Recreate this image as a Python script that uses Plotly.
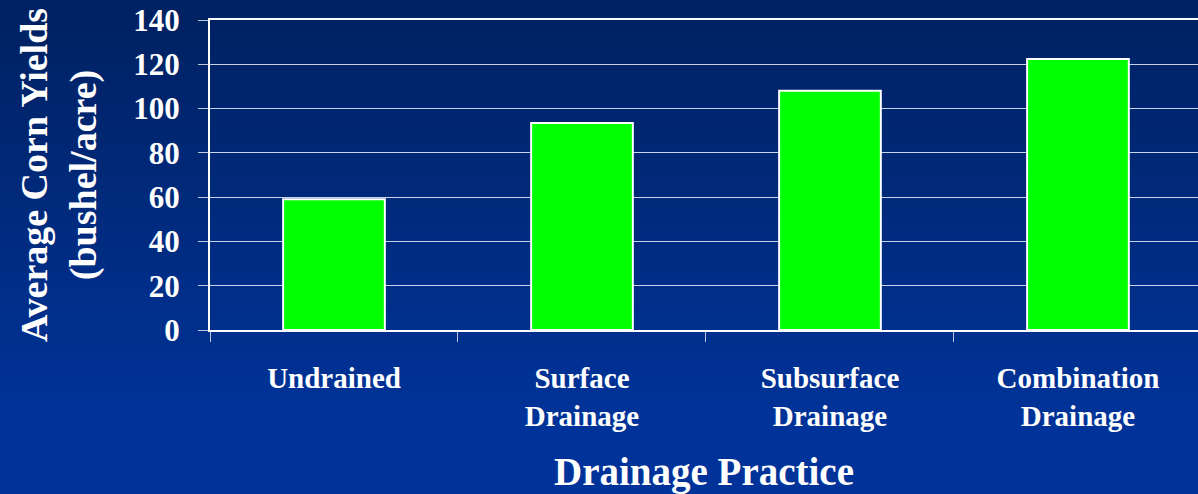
import plotly.graph_objects as go

categories = ["Undrained", "Surface<br>Drainage", "Subsurface<br>Drainage", "Combination<br>Drainage"]
yields = [59, 93.5, 108, 122.4]
y_ticks = [0, 20, 40, 60, 80, 100, 120, 140]

W, H = 1198, 494
ML, MR, MT, MB = 210, 0, 20, 164
FONT = "Liberation Serif"

fig = go.Figure()
fig.add_trace(go.Bar(
    x=categories, y=yields, width=0.41,
    marker=dict(color="#00FF00", line=dict(color="white", width=2)),
))

# background gradient (styling only)
plot_h = H - MT - MB
plot_w = W - ML - MR
top_c = (0x00, 0x21, 0x60)
bot_c = (0x00, 0x33, 0x99)
n = 60
for i in range(n):
    p0 = i * H / n
    p1 = (i + 1) * H / n
    t = min(1.0, ((p0 + p1) / 2) / 420)
    c = tuple(round(a + (b - a) * t) for a, b in zip(top_c, bot_c))
    fig.add_shape(type="rect", xref="paper", yref="paper", layer="below",
                  x0=-ML / plot_w, x1=1.01,
                  y0=(H - MB - p1) / plot_h - 0.001, y1=(H - MB - p0) / plot_h + 0.001,
                  line=dict(width=0), fillcolor="rgb(%d,%d,%d)" % c)

fig.update_layout(
    width=W, height=H,
    margin=dict(l=ML, r=MR, t=MT, b=MB, pad=0),
    paper_bgcolor="#003399",
    plot_bgcolor="rgba(0,0,0,0)",
    showlegend=False,
    font=dict(family=FONT, color="white"),
)
fig.update_xaxes(
    range=[-0.5, 3.484],
    showline=True, linecolor="white", linewidth=2, mirror=True,
    ticks="outside", tickson="boundaries", ticklen=10, tickcolor="#c0c8e0", tickwidth=1,
    ticklabelstandoff=21,
    tickfont=dict(size=29, family=FONT, color="white", weight="bold"),
    showgrid=False,
    title=dict(text="<b>Drainage Practice</b>", font=dict(size=39, family=FONT, color="white"), standoff=30),
)
fig.update_yaxes(
    range=[0, 140], tickvals=y_ticks,
    showline=True, linecolor="white", linewidth=2,
    ticks="outside", ticklen=10, tickcolor="#c0c8e0", tickwidth=1,
    ticklabelstandoff=12,
    tickfont=dict(size=31, family=FONT, color="white", weight="bold"),
    showgrid=True, gridcolor="rgba(235,240,255,0.85)", gridwidth=1,
    zeroline=False,
    title=dict(text="<b>Average Corn Yields<br>(bushel/acre)</b>", font=dict(size=38, family=FONT, color="white"), standoff=25),
)

fig.write_html("out.html")
